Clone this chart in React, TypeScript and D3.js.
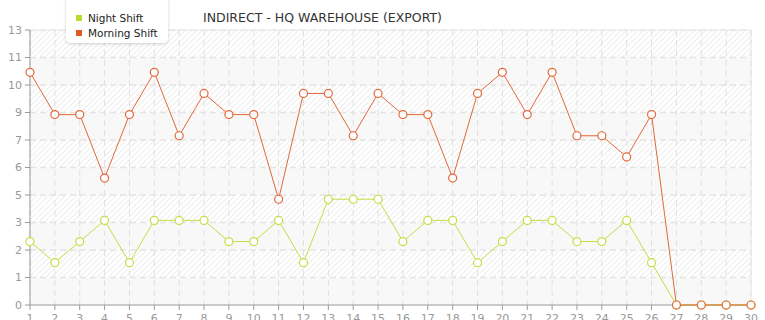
import React from "react";
import * as d3 from "d3";

const days = d3.range(1, 31);
const nightShift = [3, 2, 3, 4, 2, 4, 4, 4, 3, 3, 4, 2, 5, 5, 5, 3, 4, 4, 2, 3, 4, 4, 3, 3, 4, 2, 0, 0, 0, 0];
const morningShift = [11, 9, 9, 6, 9, 11, 8, 10, 9, 9, 5, 10, 10, 8, 10, 9, 9, 6, 10, 11, 9, 11, 8, 8, 7, 9, 0, 0, 0, 0];
const yMax = 13;
const yTickCount = 10;
const title = "INDIRECT - HQ WAREHOUSE (EXPORT)";
const seriesNames = ["Night Shift", "Morning Shift"];

const W = 765, H = 320;
const L = 30, R = 751, T = 30, B = 305;
const nightColor = "#c2df45";
const morningColor = "#e2683a";
const font = "'DejaVu Sans', Verdana, sans-serif";

export default function App() {
  const x = d3.scaleLinear().domain([1, 30]).range([L, R]);
  const y = d3.scaleLinear().domain([0, yMax]).range([B, T]);
  const yTicks = d3.range(0, yTickCount + 1).map((i) => (i * yMax) / yTickCount);
  const line = d3.line<number>().x((_, i) => x(days[i])).y((d) => y(d));
  const series = [
    { name: seriesNames[0], data: nightShift, color: nightColor },
    { name: seriesNames[1], data: morningShift, color: morningColor },
  ];
  return (
    <svg width={W} height={H} style={{ position: "absolute", left: 0, top: 0, fontFamily: font }}>
      <defs>
        <pattern id="hatch" width="4" height="4" patternUnits="userSpaceOnUse" patternTransform="rotate(45)">
          <rect width="4" height="4" fill="#ffffff" />
          <line x1="0" y1="0" x2="0" y2="4" stroke="#e6e6e6" strokeWidth="1.4" />
        </pattern>
        <filter id="shadow" x="-20%" y="-20%" width="140%" height="150%">
          <feDropShadow dx="0" dy="1" stdDeviation="1.5" floodColor="#000" floodOpacity="0.18" />
        </filter>
      </defs>
      <rect x={0} y={0} width={W} height={H} fill="#fff" />
      {yTicks.slice(0, -1).map((t, i) => {
        const bandIdxFromTop = yTickCount - 1 - i;
        return (
          <rect
            key={"band" + i}
            x={L}
            y={y(yTicks[i + 1])}
            width={R - L}
            height={y(t) - y(yTicks[i + 1])}
            fill={bandIdxFromTop % 2 === 0 ? "url(#hatch)" : "#f8f8f8"}
          />
        );
      })}
      {days.map((d) => (
        <line key={"vg" + d} x1={x(d)} x2={x(d)} y1={T} y2={B} stroke="#e0e0e0" strokeDasharray="6,4" />
      ))}
      {yTicks.slice(1).map((t, i) => (
        <line key={"hg" + i} x1={L} x2={R} y1={y(t)} y2={y(t)} stroke="#e4e4e4" strokeDasharray="6,4" strokeWidth={t === yMax ? 1 : 1.5} />
      ))}
      <line x1={L} x2={R} y1={T} y2={T} stroke="#e6e6e6" />
      <line x1={R} x2={R} y1={T} y2={B} stroke="#e6e6e6" />
      <line x1={L} x2={L} y1={T} y2={B} stroke="#999" />
      <line x1={L} x2={R} y1={B} y2={B} stroke="#999" />
      {yTicks.map((t, i) => (
        <g key={"yt" + i}>
          <line x1={L - 5} x2={L} y1={y(t)} y2={y(t)} stroke="#999" />
          <text x={L - 8} y={y(t)} dy="0.35em" textAnchor="end" fontSize={11} fill="#999">
            {Math.floor(t + 1e-9)}
          </text>
        </g>
      ))}
      {days.map((d) => (
        <g key={"xt" + d}>
          <line x1={x(d)} x2={x(d)} y1={B} y2={B + 5} stroke="#999" />
          <text x={x(d)} y={B + 17} textAnchor="middle" fontSize={11} fill="#999">
            {d}
          </text>
        </g>
      ))}
      {series.map((s) => (
        <g key={s.name}>
          <path d={line(s.data) || ""} fill="none" stroke={s.color} strokeWidth={1} />
          {s.data.map((v, i) => (
            <circle key={i} cx={x(days[i])} cy={y(v)} r={4} fill="#fff" stroke={s.color} strokeWidth={1.2} />
          ))}
        </g>
      ))}
      <g>
        <rect x={66} y={-6} width={102} height={49} rx={5} fill="#fff" filter="url(#shadow)" />
        <rect x={76} y={15} width={6} height={6} fill="#b9dc2c" />
        <text x={88} y={18} dy="0.35em" fontSize={10.5} fill="#222">{seriesNames[0]}</text>
        <rect x={76} y={30} width={6} height={6} fill="#e05a24" />
        <text x={88} y={33} dy="0.35em" fontSize={10.5} fill="#222">{seriesNames[1]}</text>
      </g>
      <text x={203} y={22} fontSize={12.5} fill="#333">{title}</text>
    </svg>
  );
}
